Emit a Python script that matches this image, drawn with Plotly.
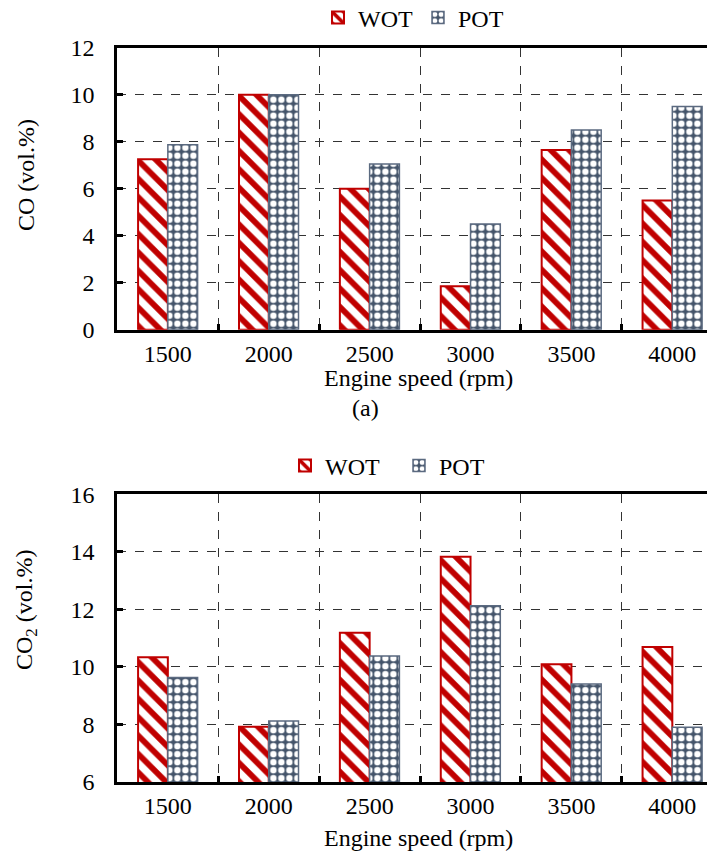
import plotly.graph_objects as go

# ---------------- data ----------------
speeds = ["1500", "2000", "2500", "3000", "3500", "4000"]
co_wot = [7.25, 10.0, 6.0, 1.85, 7.65, 5.5]
co_pot = [7.87, 10.0, 7.05, 4.5, 8.5, 9.5]
co2_wot = [10.33, 7.92, 11.18, 13.83, 10.09, 10.69]
co2_pot = [9.63, 8.12, 10.38, 12.12, 9.4, 7.9]
series_names = ["WOT", "POT"]
co_ticks = [0, 2, 4, 6, 8, 10, 12]
co2_ticks = [6, 8, 10, 12, 14, 16]

OFF = 8  # default page body margin
W, H = 715 - OFF, 861 - OFF
FONT = "Liberation Serif"
RED = "#C00000"
BLUE = "#44546A"


def fx(px):
    return (px - OFF) / W


def fy(px):
    return 1 - (px - OFF) / H


wot_marker = dict(color="white", line=dict(color=RED, width=2),
                  pattern=dict(shape="\\", fgcolor=RED, bgcolor="white", size=13,
                               solidity=0.45, fgopacity=1))
pot_marker = dict(color=BLUE, line=dict(color="#5B6A80", width=1.5),
                  pattern=dict(shape=".", fgcolor="white", bgcolor=BLUE, size=8,
                               solidity=0.5, fgopacity=1))

fig = go.Figure()
fig.add_trace(go.Bar(x=speeds, y=co_wot, name=series_names[0], marker=wot_marker,
                     xaxis="x", yaxis="y", legend="legend"))
fig.add_trace(go.Bar(x=speeds, y=co_pot, name=series_names[1], marker=pot_marker,
                     xaxis="x", yaxis="y", legend="legend"))
fig.add_trace(go.Bar(x=speeds, y=co2_wot, name=series_names[0], marker=wot_marker,
                     xaxis="x2", yaxis="y2", legend="legend2"))
fig.add_trace(go.Bar(x=speeds, y=co2_pot, name=series_names[1], marker=pot_marker,
                     xaxis="x2", yaxis="y2", legend="legend2"))

xr = [-0.5, 5.423]
xcommon = dict(type="category", range=xr, tickson="boundaries", ticks="inside", ticklen=6,
               tickwidth=3, tickcolor="black", showline=True, linewidth=3, linecolor="black",
               mirror=True, showgrid=True, gridcolor="#333333", gridwidth=1, griddash="dash",
               tickfont=dict(family=FONT, size=24, color="black"), ticklabelstandoff=0,
               zeroline=False, automargin=False)
ycommon = dict(ticks="inside", ticklen=6, tickwidth=3, tickcolor="black", showline=True,
               linewidth=3, linecolor="black", showgrid=True, gridcolor="#333333", gridwidth=1,
               griddash="dash", tickfont=dict(family=FONT, size=24, color="black"),
               ticklabelstandoff=15, zeroline=False, automargin=False)

fig.update_layout(
    width=W, height=H,
    margin=dict(l=0, r=0, t=0, b=0, autoexpand=False),
    paper_bgcolor="white", plot_bgcolor="white",
    barmode="group", bargap=0.41, bargroupgap=0,
    font=dict(family=FONT, size=24, color="black"),
    xaxis=dict(xcommon, domain=[fx(117.4), 1], anchor="y"),
    yaxis=dict(ycommon, domain=[fy(329.7), fy(47.7)], range=[0, 12], tickvals=co_ticks, anchor="x"),
    xaxis2=dict(xcommon, domain=[fx(117.4), 1], anchor="y2"),
    yaxis2=dict(ycommon, domain=[fy(781.9), fy(494.2)], range=[6, 16], tickvals=co2_ticks, anchor="x2"),
    legend=dict(orientation="h", x=fx(318), xanchor="left", y=fy(18), yanchor="middle",
                font=dict(family=FONT, size=24, color="black"), bgcolor="rgba(0,0,0,0)",
                entrywidth=55, tracegroupgap=0, borderwidth=0),
    legend2=dict(orientation="h", x=fx(285), xanchor="left", y=fy(466), yanchor="middle",
                 font=dict(family=FONT, size=24, color="black"), bgcolor="rgba(0,0,0,0)",
                 entrywidth=69, tracegroupgap=0, borderwidth=0),
    annotations=[
        dict(text="Engine speed (rpm)", x=fx(418), y=fy(378), xref="paper", yref="paper",
             showarrow=False, xanchor="center", yanchor="middle", font=dict(family=FONT, size=24)),
        dict(text="(a)", x=fx(365), y=fy(408), xref="paper", yref="paper",
             showarrow=False, xanchor="center", yanchor="middle", font=dict(family=FONT, size=24)),
        dict(text="Engine speed (rpm)", x=fx(418), y=fy(838), xref="paper", yref="paper",
             showarrow=False, xanchor="center", yanchor="middle", font=dict(family=FONT, size=24)),
        dict(text="CO (vol.%)", x=fx(26), y=fy(175), xref="paper", yref="paper", textangle=-90,
             showarrow=False, xanchor="center", yanchor="middle", font=dict(family=FONT, size=24)),
        dict(text="CO<sub>2</sub> (vol.%)", x=fx(26), y=fy(610), xref="paper", yref="paper",
             textangle=-90, showarrow=False, xanchor="center", yanchor="middle",
             font=dict(family=FONT, size=24)),
    ],
)

fig.write_html("out.html")
